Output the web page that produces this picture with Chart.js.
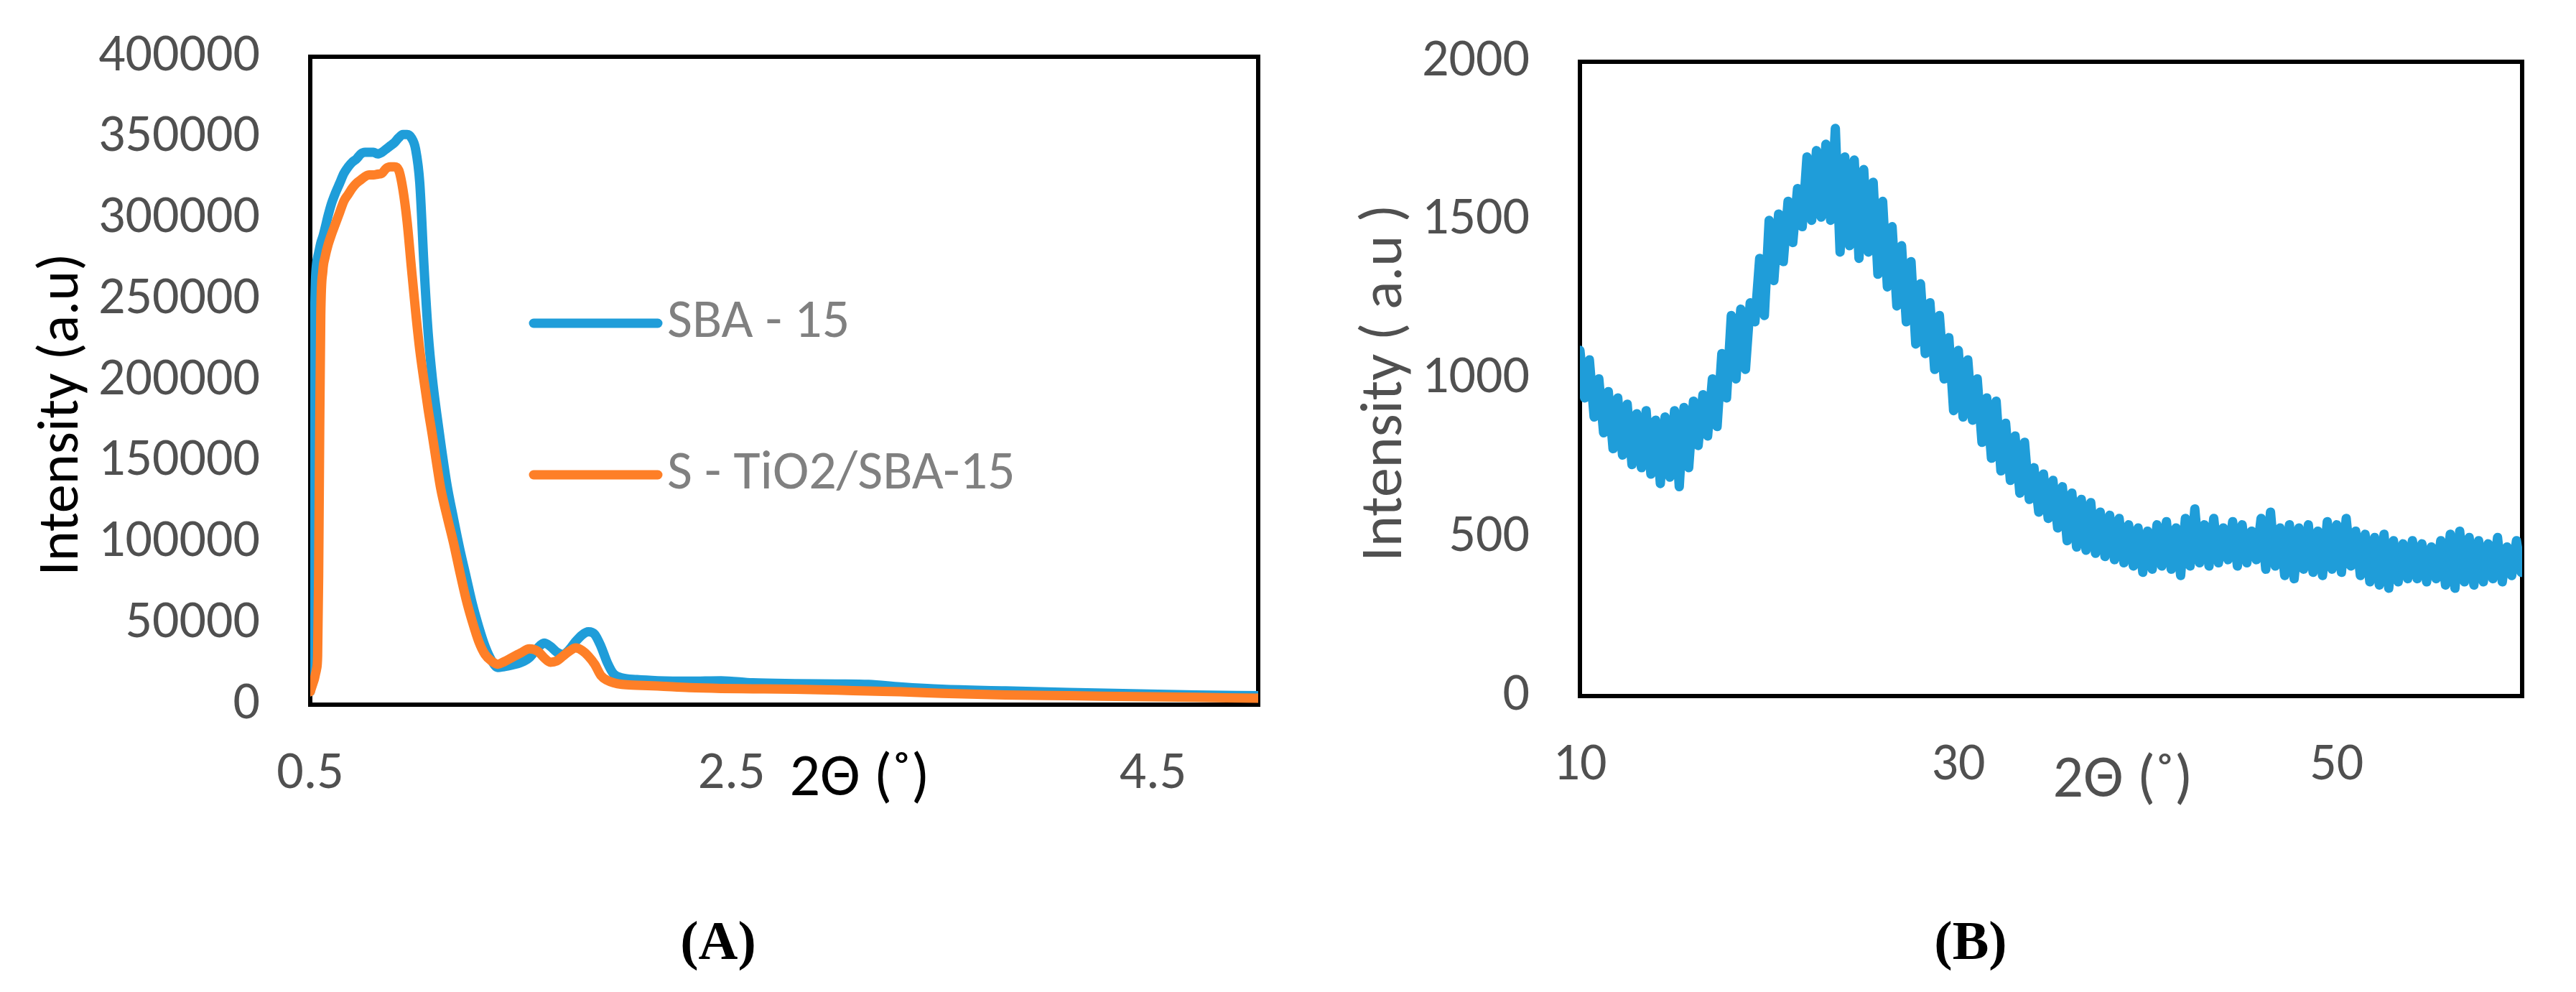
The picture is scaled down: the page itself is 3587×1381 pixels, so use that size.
<!DOCTYPE html>
<html>
<head>
<meta charset="utf-8">
<title>XRD patterns</title>
<script src="https://cdn.jsdelivr.net/npm/chart.js@4.4.1/dist/chart.umd.min.js"></script>
<style>
  html, body { margin: 0; padding: 0; background: #fff; }
  body { width: 3587px; height: 1381px; position: relative; overflow: hidden; }
  canvas { position: absolute; top: 0; }
  #panelA { left: 0; }
  #panelB { left: 1800px; }
</style>
</head>
<body>
<canvas id="panelA" width="1800" height="1381"></canvas>
<canvas id="panelB" width="1787" height="1381"></canvas>
<script>
// --- (A) low angle pattern ---
const twoThetaA = [
  0.5, 0.505, 0.51, 0.515, 0.52, 0.525, 0.53, 0.535, 0.54, 0.545,
  0.55, 0.56, 0.57, 0.585, 0.6, 0.62, 0.64, 0.66, 0.68, 0.7,
  0.72, 0.74, 0.76, 0.78, 0.8, 0.82, 0.84, 0.86, 0.88, 0.9,
  0.92, 0.94, 0.96, 0.98, 1.0, 1.02, 1.04, 1.06, 1.08, 1.1,
  1.12, 1.15, 1.18, 1.21, 1.24, 1.27, 1.3, 1.33, 1.36, 1.39,
  1.42, 1.46, 1.5, 1.54, 1.58, 1.61, 1.64, 1.67, 1.7, 1.73,
  1.76, 1.79, 1.82, 1.85, 1.88, 1.91, 1.94, 1.98, 2.05, 2.15,
  2.3, 2.45, 2.6, 2.8, 3.0, 3.15, 3.3, 3.5, 3.8, 4.1,
  4.4, 4.7, 5.0
];
const sba15 = [
  8000, 20000, 60000, 150000, 230000, 262000, 272000, 276000, 279000, 282000,
  285000, 289000, 294000, 302000, 309000, 316000, 322000, 328000, 332000, 335000,
  337000, 340000, 341000, 341000, 341000, 340000, 341000, 343000, 345000, 347000,
  350000, 352000, 352000, 350000, 343000, 322000, 271000, 229000, 201000, 180000,
  161000, 135000, 115000, 96000, 79000, 62000, 48000, 36000, 27500, 23000,
  23500, 24500, 26000, 29000, 35000, 38000, 36000, 32500, 31000, 34000,
  39000, 43000, 45000, 43500, 36000, 26000, 19000, 16500, 15500, 14800,
  14500, 14800, 13500, 13000, 12800, 12500, 11000, 9500, 8500, 7500,
  6800, 6000, 5500
];
const tio2Sba15 = [
  8000, 10000, 12000, 14000, 16000, 19000, 22000, 30000, 80000, 170000,
  240000, 268000, 276000, 284000, 290000, 297000, 304000, 311000, 315000, 319000,
  322000, 324000, 326000, 327000, 327000, 327500, 328000, 331000, 332000, 332000,
  330000, 318000, 298000, 270000, 243000, 219000, 200000, 182000, 166000, 149000,
  133000, 116000, 100000, 82000, 65000, 51000, 39000, 31000, 27000, 25000,
  26500, 29300, 32000, 34500, 33000, 29000, 26200, 27000, 30000, 33000,
  35000, 33500, 30000, 25000, 18000, 15000, 13500, 12500, 12000, 11500,
  10500, 10000, 9800, 9500, 9000, 8400, 8000, 7000, 6000, 5500,
  5000, 4500, 4000
];
const xTicksA = [0.5, 2.5, 4.5];

// --- (B) wide angle pattern ---
const twoThetaB = [
  10, 10.25, 10.5, 10.75, 11, 11.25, 11.5, 11.75,
  12, 12.25, 12.5, 12.75, 13, 13.25, 13.5, 13.75,
  14, 14.25, 14.5, 14.75, 15, 15.25, 15.5, 15.75,
  16, 16.25, 16.5, 16.75, 17, 17.25, 17.5, 17.75,
  18, 18.25, 18.5, 18.75, 19, 19.25, 19.5, 19.75,
  20, 20.25, 20.5, 20.75, 21, 21.25, 21.5, 21.75,
  22, 22.25, 22.5, 22.75, 23, 23.25, 23.5, 23.75,
  24, 24.25, 24.5, 24.75, 25, 25.25, 25.5, 25.75,
  26, 26.25, 26.5, 26.75, 27, 27.25, 27.5, 27.75,
  28, 28.25, 28.5, 28.75, 29, 29.25, 29.5, 29.75,
  30, 30.25, 30.5, 30.75, 31, 31.25, 31.5, 31.75,
  32, 32.25, 32.5, 32.75, 33, 33.25, 33.5, 33.75,
  34, 34.25, 34.5, 34.75, 35, 35.25, 35.5, 35.75,
  36, 36.25, 36.5, 36.75, 37, 37.25, 37.5, 37.75,
  38, 38.25, 38.5, 38.75, 39, 39.25, 39.5, 39.75,
  40, 40.25, 40.5, 40.75, 41, 41.25, 41.5, 41.75,
  42, 42.25, 42.5, 42.75, 43, 43.25, 43.5, 43.75,
  44, 44.25, 44.5, 44.75, 45, 45.25, 45.5, 45.75,
  46, 46.25, 46.5, 46.75, 47, 47.25, 47.5, 47.75,
  48, 48.25, 48.5, 48.75, 49, 49.25, 49.5, 49.75,
  50, 50.25, 50.5, 50.75, 51, 51.25, 51.5, 51.75,
  52, 52.25, 52.5, 52.75, 53, 53.25, 53.5, 53.75,
  54, 54.25, 54.5, 54.75, 55, 55.25, 55.5, 55.75,
  56, 56.25, 56.5, 56.75, 57, 57.25, 57.5, 57.75,
  58, 58.25, 58.5, 58.75, 59, 59.25, 59.5, 59.75,
  60
];
const intensityB = [
  1090, 940, 1060, 880, 1000, 830, 960, 780,
  940, 760, 920, 730, 890, 720, 900, 700,
  870, 670, 880, 690, 900, 660, 910, 720,
  930, 790, 950, 820, 1000, 850, 1080, 940,
  1200, 1000, 1220, 1030, 1240, 1180, 1380, 1200,
  1500, 1310, 1520, 1370, 1560, 1430, 1600, 1480,
  1700, 1500, 1720, 1510, 1740, 1500, 1790, 1400,
  1700, 1420, 1690, 1380, 1660, 1400, 1620, 1330,
  1560, 1290, 1480, 1230, 1420, 1180, 1370, 1110,
  1300, 1080, 1240, 1030, 1200, 1000, 1130, 900,
  1090, 880, 1060, 870, 1000, 800, 940, 750,
  930, 710, 860, 680, 820, 640, 800, 620,
  720, 580, 700, 560, 680, 530, 660, 490,
  640, 470, 620, 460, 610, 450, 580, 440,
  570, 430, 560, 420, 540, 410, 530, 390,
  520, 400, 540, 410, 550, 400, 530, 380,
  560, 410, 590, 420, 540, 410, 560, 420,
  530, 430, 550, 410, 540, 420, 520, 430,
  560, 400, 580, 410, 530, 380, 540, 370,
  530, 400, 540, 390, 520, 380, 550, 400,
  540, 390, 560, 410, 520, 380, 510, 360,
  500, 350, 510, 340, 490, 360, 480, 370,
  490, 370, 480, 360, 470, 370, 490, 350,
  510, 340, 520, 360, 500, 350, 490, 360,
  480, 370, 500, 360, 470, 380, 490, 390,
  460
];
const xTicksB = [10, 30, 50];

const tickColor = '#505050';
const tickFont = { family: 'Carlito, Lato', size: 74 };

function xy(xs, ys) {
  return xs.map((x, i) => ({ x: x, y: ys[i] }));
}

// frame, axis titles, panel letter and the in-plot legend
const panelDecor = {
  id: 'panelDecor',
  beforeDatasetsDraw(chart) {
    const ctx = chart.ctx, a = chart.chartArea;
    ctx.save();
    ctx.strokeStyle = '#000';
    ctx.lineWidth = 6;
    ctx.strokeRect(a.left, a.top, a.right - a.left, a.bottom - a.top);
    ctx.restore();
  },
  afterDraw(chart, args, o) {
    const ctx = chart.ctx, a = chart.chartArea;
    ctx.save();
    ctx.textAlign = 'center';
    ctx.textBaseline = 'middle';
    ctx.fillStyle = o.titleColor;

    ctx.save();
    ctx.translate(a.left + o.yTitlePos[0], a.top + o.yTitlePos[1]);
    ctx.rotate(-Math.PI / 2);
    ctx.font = o.yTitleSize + 'px Carlito, Lato';
    ctx.fillText(o.yTitle, 0, 0);
    ctx.restore();

    ctx.font = '84px Carlito, Lato';
    ctx.fillText(o.xTitle, a.left + o.xTitlePos[0], a.bottom + o.xTitlePos[1]);

    ctx.fillStyle = '#000';
    ctx.font = 'bold 76px "Liberation Serif"';
    ctx.fillText(o.tag, a.left + o.tagPos[0], a.bottom + o.tagPos[1]);

    if (o.legend) {
      chart.data.datasets.forEach((ds, i) => {
        const x0 = a.left + o.legend.left;
        const y = a.top + o.legend.top + i * o.legend.gap;
        ctx.strokeStyle = ds.borderColor;
        ctx.lineWidth = 13;
        ctx.lineCap = 'round';
        ctx.beginPath();
        ctx.moveTo(x0, y);
        ctx.lineTo(x0 + 173, y);
        ctx.stroke();
        ctx.fillStyle = '#808080';
        ctx.font = '76px Carlito, Lato';
        ctx.textAlign = 'left';
        ctx.fillText(ds.label, x0 + 186, y);
      });
    }
    ctx.restore();
  }
};

function axisX(min, max, ticks, height) {
  return {
    type: 'linear', min: min, max: max,
    grid: { display: false, drawTicks: false }, border: { display: false },
    afterBuildTicks: s => { s.ticks = ticks.map(v => ({ value: v })); },
    afterFit: s => { s.height = height; s.paddingLeft = 0; s.paddingRight = 0; },
    ticks: { color: tickColor, font: tickFont, padding: 53, maxRotation: 0, autoSkip: false, callback: v => String(v) }
  };
}
function axisY(max, step, width) {
  return {
    min: 0, max: max,
    grid: { display: false, drawTicks: false }, border: { display: false },
    afterFit: s => { s.width = width; s.paddingTop = 0; s.paddingBottom = 0; },
    ticks: { stepSize: step, color: tickColor, font: tickFont, padding: 70, callback: v => String(v) }
  };
}

new Chart(document.getElementById('panelA'), {
  type: 'line',
  data: {
    datasets: [
      { label: 'SBA - 15', data: xy(twoThetaA, sba15), borderColor: '#1f9dd9', order: 1 },
      { label: 'S - TiO2/SBA-15', data: xy(twoThetaA, tio2Sba15), borderColor: '#fe7f27', order: 0 }
    ]
  },
  options: {
    responsive: false, animation: false,
    layout: { padding: { left: 0, top: 79, right: 48, bottom: 0 } },
    elements: {
      point: { radius: 0 },
      line: { borderWidth: 13, cubicInterpolationMode: 'monotone', borderJoinStyle: 'round', borderCapStyle: 'round' }
    },
    scales: { x: axisX(0.5, 5, xTicksA, 400), y: axisY(400000, 50000, 432) },
    plugins: {
      legend: { display: false }, tooltip: { enabled: false },
      panelDecor: {
        titleColor: '#000', yTitle: 'Intensity (a.u)', yTitleSize: 80, yTitlePos: [-344, 498],
        xTitle: '2\u0398 (\u02DA)', xTitlePos: [765, 105],
        tag: '(A)', tagPos: [568, 334],
        legend: { left: 311, top: 371, gap: 211 }
      }
    }
  },
  plugins: [panelDecor]
});

new Chart(document.getElementById('panelB'), {
  type: 'line',
  data: {
    datasets: [
      { label: 'Intensity', data: xy(twoThetaB, intensityB), borderColor: '#1f9dd9' }
    ]
  },
  options: {
    responsive: false, animation: false,
    layout: { padding: { left: 0, top: 86, right: 75, bottom: 0 } },
    elements: {
      point: { radius: 0 },
      line: { borderWidth: 13, tension: 0, borderJoinStyle: 'round', borderCapStyle: 'round' }
    },
    scales: { x: axisX(10, 59.8, xTicksB, 412), y: axisY(2000, 500, 400) },
    plugins: {
      legend: { display: false }, tooltip: { enabled: false },
      panelDecor: {
        titleColor: '#505050', yTitle: 'Intensity ( a.u )', yTitleSize: 82, yTitlePos: [-270, 447],
        xTitle: '2\u0398 (\u02DA)', xTitlePos: [756, 119],
        tag: '(B)', tagPos: [544, 346]
      }
    }
  },
  plugins: [panelDecor]
});
</script>
</body>
</html>
